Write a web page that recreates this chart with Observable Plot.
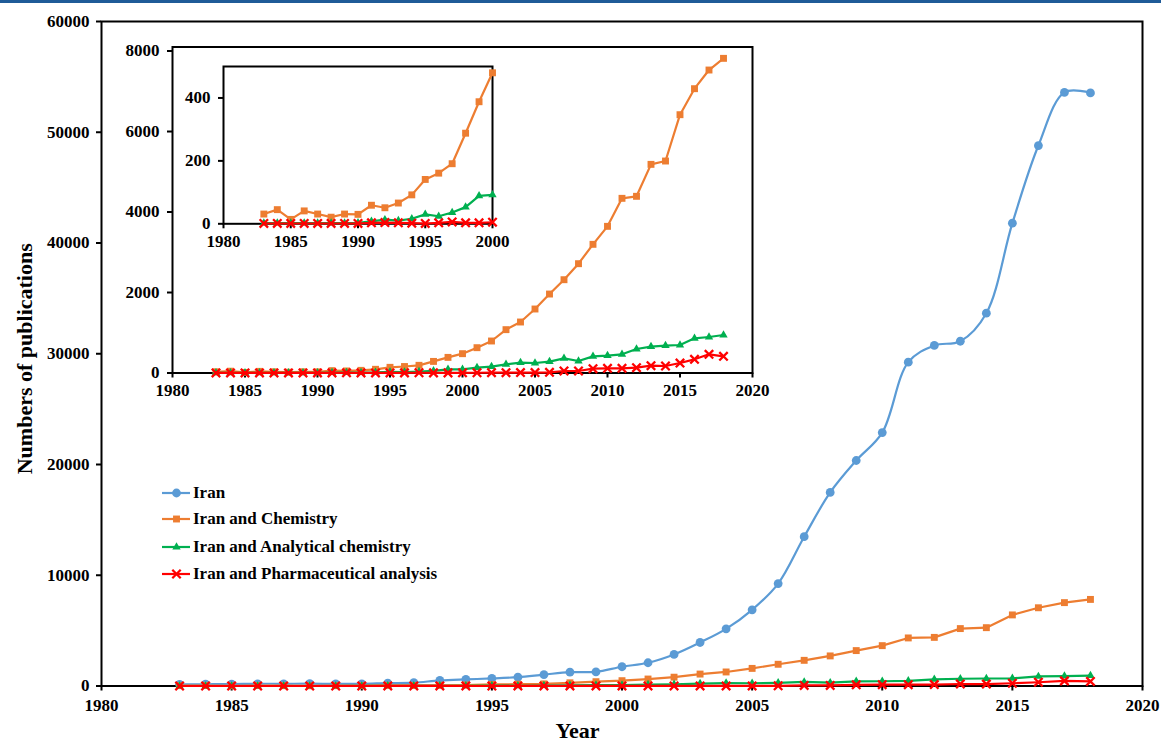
<!DOCTYPE html>
<html>
<head>
<meta charset="utf-8">
<script src="https://cdn.jsdelivr.net/npm/d3@7"></script>
<script src="https://cdn.jsdelivr.net/npm/@observablehq/plot@0.6"></script>
<style>
  html, body { margin: 0; padding: 0; background: #ffffff; }
  #chart { position: relative; width: 1161px; height: 742px; overflow: hidden; background: #ffffff;
           font-family: "Liberation Serif", "Times New Roman", serif; font-weight: bold; color: #000; }
  #topbar { position: absolute; left: 0; top: 0; width: 1161px; height: 3px; background: #1f5b98; }
  .legrow { position: absolute; height: 20px; line-height: 20px; font-size: 17px; white-space: nowrap; }
  .legrow svg { position: absolute; left: 0; top: 0; }
  .legrow span { position: absolute; left: 31px; top: 0; }
</style>
</head>
<body>
<div id="chart"><div id="topbar"></div></div>
<script>
// ---- data ----
const years = [1983, 1984, 1985, 1986, 1987, 1988, 1989, 1990, 1991, 1992, 1993, 1994,
               1995, 1996, 1997, 1998, 1999, 2000, 2001, 2002, 2003, 2004, 2005, 2006,
               2007, 2008, 2009, 2010, 2011, 2012, 2013, 2014, 2015, 2016, 2017, 2018];
const iran = [150, 160, 170, 200, 200, 210, 190, 200, 260, 300, 500, 600,
              680, 800, 1030, 1250, 1280, 1740, 2100, 2850, 3930, 5160, 6880, 9250,
              13480, 17480, 20360, 22880, 29240, 30750, 31130, 33660, 41790, 48800, 53600, 53550];
const chemistry = [31, 45, 14, 41, 31, 21, 31, 30, 59, 51, 66, 92,
                   141, 161, 191, 288, 388, 480, 629, 795, 1077, 1267, 1590, 1962,
                   2318, 2716, 3197, 3644, 4340, 4390, 5184, 5267, 6418, 7064, 7528, 7818];
const analytical = [2, 2, 2, 2, 2, 2, 2, 3, 8, 13, 10, 16,
                    30, 24, 36, 53, 89, 92, 133, 157, 215, 257, 248, 282,
                    364, 298, 414, 431, 464, 596, 654, 679, 696, 861, 894, 944];
const pharma = [1, 1, 1, 1, 1, 1, 1, 1, 3, 4, 3, 2,
                1, 3, 6, 3, 3, 5, 6, 8, 8, 10, 10, 17,
                50, 50, 108, 116, 116, 133, 182, 174, 248, 340, 464, 414];
const seriesNames = ["Iran", "Iran and Chemistry", "Iran and Analytical chemistry", "Iran and Pharmaceutical analysis"];
const seriesValues = [iran, chemistry, analytical, pharma];

const xTicksMain = [1980, 1985, 1990, 1995, 2000, 2005, 2010, 2015, 2020];
const yTicksMain = [0, 10000, 20000, 30000, 40000, 50000, 60000];
const yTicksInset1 = [0, 2000, 4000, 6000, 8000];
const xTicksInset2 = [1980, 1985, 1990, 1995, 2000];
const yTicksInset2 = [0, 200, 400];

const xTitle = "Year";
const yTitle = "Numbers of publications";

// ---- styles ----
const looks = [
  {color: "#5b9bd5", symbol: "circle", r: 4.4, filled: true, curve: "catmull-rom"},
  {color: "#ed7d31", symbol: "square", r: 3.9, filled: true, curve: "linear"},
  {color: "#00b050", symbol: "triangle", r: 3.1, filled: true, curve: "linear"},
  {color: "#ff0000", symbol: "times", r: 3.9, filled: false, curve: "linear"}
];

const series = seriesNames.map((name, i) => ({
  name,
  ...looks[i],
  data: years.map((year, j) => ({year, value: seriesValues[i][j], series: name}))
}));

const W = 1161, H = 742;
const chart = document.getElementById("chart");

function dataMarks(list) {
  const marks = [];
  for (const s of list) {
    marks.push(Plot.line(s.data, {x: "year", y: "value", stroke: s.color, strokeWidth: 2.2, curve: s.curve}));
    marks.push(Plot.dot(s.data, {
      x: "year", y: "value", symbol: s.symbol, r: s.r,
      fill: s.filled ? s.color : "none",
      stroke: s.filled ? "none" : s.color,
      strokeWidth: s.filled ? 0 : 2.3
    }));
  }
  return marks;
}

function layer({xDomain, yDomain, xTicks, yTicks, margins, list, padX, padY, extra = []}) {
  const svg = Plot.plot({
    width: W, height: H,
    marginTop: margins[0], marginRight: margins[1], marginBottom: margins[2], marginLeft: margins[3],
    x: {domain: xDomain},
    y: {domain: yDomain},
    style: {fontFamily: "'Liberation Serif', 'Times New Roman', serif", fontSize: "17px", fontWeight: "bold",
            color: "#000", background: "transparent", position: "absolute", left: "0px", top: "0px", overflow: "visible"},
    marks: [
      Plot.frame({stroke: "#000", strokeWidth: 2}),
      Plot.axisX({ticks: xTicks, tickSize: 5, tickPadding: padX, strokeWidth: 2, tickFormat: d => String(d), label: null}),
      Plot.axisY({ticks: yTicks, tickSize: 5, tickPadding: padY, strokeWidth: 2, tickFormat: d => String(d), label: null}),
      ...dataMarks(list),
      ...extra
    ]
  });
  chart.appendChild(svg);
}

// main chart
layer({
  xDomain: [1980, 2020], yDomain: [0, 60000], xTicks: xTicksMain, yTicks: yTicksMain,
  margins: [21, 19, 56.5, 101], list: series, padX: 8, padY: 7,
  extra: [
    Plot.text([yTitle], {text: d => d, frameAnchor: "left", dx: -77, dy: 5, rotate: -90,
                         textAnchor: "middle", lineAnchor: "middle", fontSize: 22, fontWeight: "bold", fill: "#000"}),
    Plot.text([xTitle], {text: d => d, frameAnchor: "bottom", dx: -44.5, dy: 45,
                         textAnchor: "middle", lineAnchor: "middle", fontSize: 22, fontWeight: "bold", fill: "#000"})
  ]
});

// inset 1 (0-8000)
layer({
  xDomain: [1980, 2020], yDomain: [0, 8100], xTicks: xTicksMain, yTicks: yTicksInset1,
  margins: [46.5, 409, 369.5, 172], list: series.slice(1), padX: 6, padY: 8
});

// inset 2 (1980-2000, 0-500)
layer({
  xDomain: [1980, 2000], yDomain: [0, 500], xTicks: xTicksInset2, yTicks: yTicksInset2,
  margins: [66, 669, 518.7, 223], list: series.slice(1).map(s => ({...s, data: s.data.filter(d => d.year <= 2000)})),
  padX: 6, padY: 8
});

// legend
const rowY = [492.7, 519.5, 546.7, 574];
series.forEach((s, i) => {
  const row = document.createElement("div");
  row.className = "legrow";
  row.style.left = "162px";
  row.style.top = (rowY[i] - 10.1) + "px";
  const ns = "http://www.w3.org/2000/svg";
  const sv = document.createElementNS(ns, "svg");
  sv.setAttribute("width", "30"); sv.setAttribute("height", "20");
  const ln = document.createElementNS(ns, "line");
  ln.setAttribute("x1", "0"); ln.setAttribute("x2", "28"); ln.setAttribute("y1", "10"); ln.setAttribute("y2", "10");
  ln.setAttribute("stroke", s.color); ln.setAttribute("stroke-width", "2.2");
  sv.appendChild(ln);
  const symMap = {circle: d3.symbolCircle, square: d3.symbolSquare, triangle: d3.symbolTriangle, times: d3.symbolTimes};
  const p = document.createElementNS(ns, "path");
  p.setAttribute("d", d3.symbol(symMap[s.symbol], Math.PI * s.r * s.r)());
  p.setAttribute("transform", "translate(14.5,10)");
  if (s.filled) { p.setAttribute("fill", s.color); }
  else { p.setAttribute("fill", "none"); p.setAttribute("stroke", s.color); p.setAttribute("stroke-width", "2.3"); }
  sv.appendChild(p);
  row.appendChild(sv);
  const sp = document.createElement("span");
  sp.textContent = s.name;
  row.appendChild(sp);
  chart.appendChild(row);
});
</script>
</body>
</html>
